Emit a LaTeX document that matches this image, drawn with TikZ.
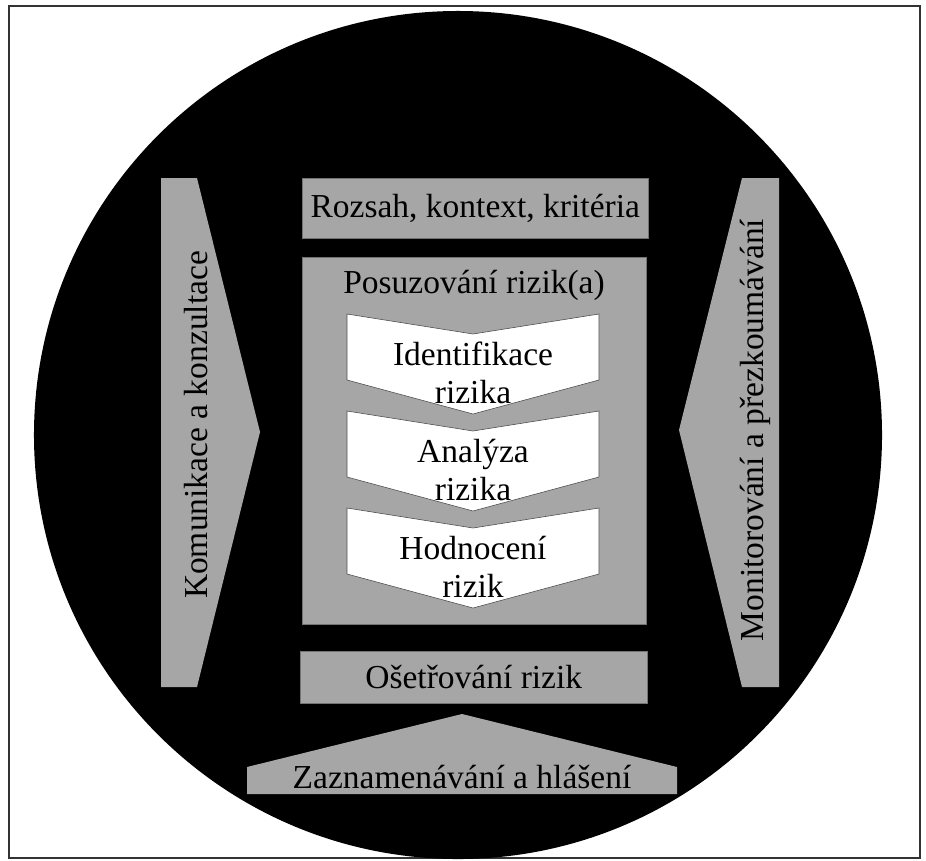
\documentclass[tikz,border=0pt]{standalone}
\usepackage{fontspec}
\setmainfont{Liberation Serif}
\definecolor{boxgray}{RGB}{166,166,166}
\begin{document}
\begin{tikzpicture}[x=0.03cm, y=-0.03cm,
  graybox/.style={fill=boxgray, draw=black!55, line width=0.4pt, inner sep=0pt, anchor=north west},
  chevron/.style={fill=white, draw=black!70, line width=0.5pt},
  lbl/.style={font=\fontsize{28.6}{32}\selectfont, inner sep=0pt, align=center}]
  \useasboundingbox (0,0) rectangle (926,860);
  \draw[line width=1.2pt, black!80] (9,6) rectangle (920,858);
  \fill[black] (458,435) circle [radius=12.72cm];
  % side and bottom arrows
  \fill[boxgray] (161,178) -- (197,178) -- (260,432) -- (197,687) -- (161,687) -- cycle;
  \fill[boxgray] (779,178) -- (742,178) -- (679,430) -- (742,687) -- (779,687) -- cycle;
  \fill[boxgray] (462,714) -- (677,767) -- (677,794) -- (247,794) -- (247,767) -- cycle;
  \node[lbl, rotate=90] (komunikace) at (196,425) {Komunikace a konzultace};
  \node[lbl, rotate=90] (monitoring) at (755,430) {Monitorování a přezkoumávání};
  \node[lbl] (zaznam) at (462,777) {Zaznamenávání a hlášení};
  % central column
  \node[graybox, minimum width=10.38cm, minimum height=1.8cm] (rozsah) at (302,178) {};
  \node[lbl] at (rozsah.center) {Rozsah, kontext, kritéria};
  \node[graybox, minimum width=10.32cm, minimum height=11.01cm] (posuz) at (302,257) {};
  \node[lbl] (posuztitle) at (474,285) {Posuzování rizik(a)};
  \foreach \t/\txt [count=\i] in {314/{Identifikace\\rizika}, 411/{Analýza\\rizika}, 508/{Hodnocení\\rizik}} {
    \draw[chevron] (347,\t) -- (473,\t+20) -- (599,\t) -- (599,\t+66) -- (473,\t+100) -- (347,\t+66) -- cycle;
    \node[lbl] (step\i) at (473,\t+59) {\txt};
  }
  \node[graybox, minimum width=10.41cm, minimum height=1.56cm] (osetr) at (300,651) {};
  \node[lbl] at (osetr.center) {Ošetřování rizik};
\end{tikzpicture}
\end{document}
